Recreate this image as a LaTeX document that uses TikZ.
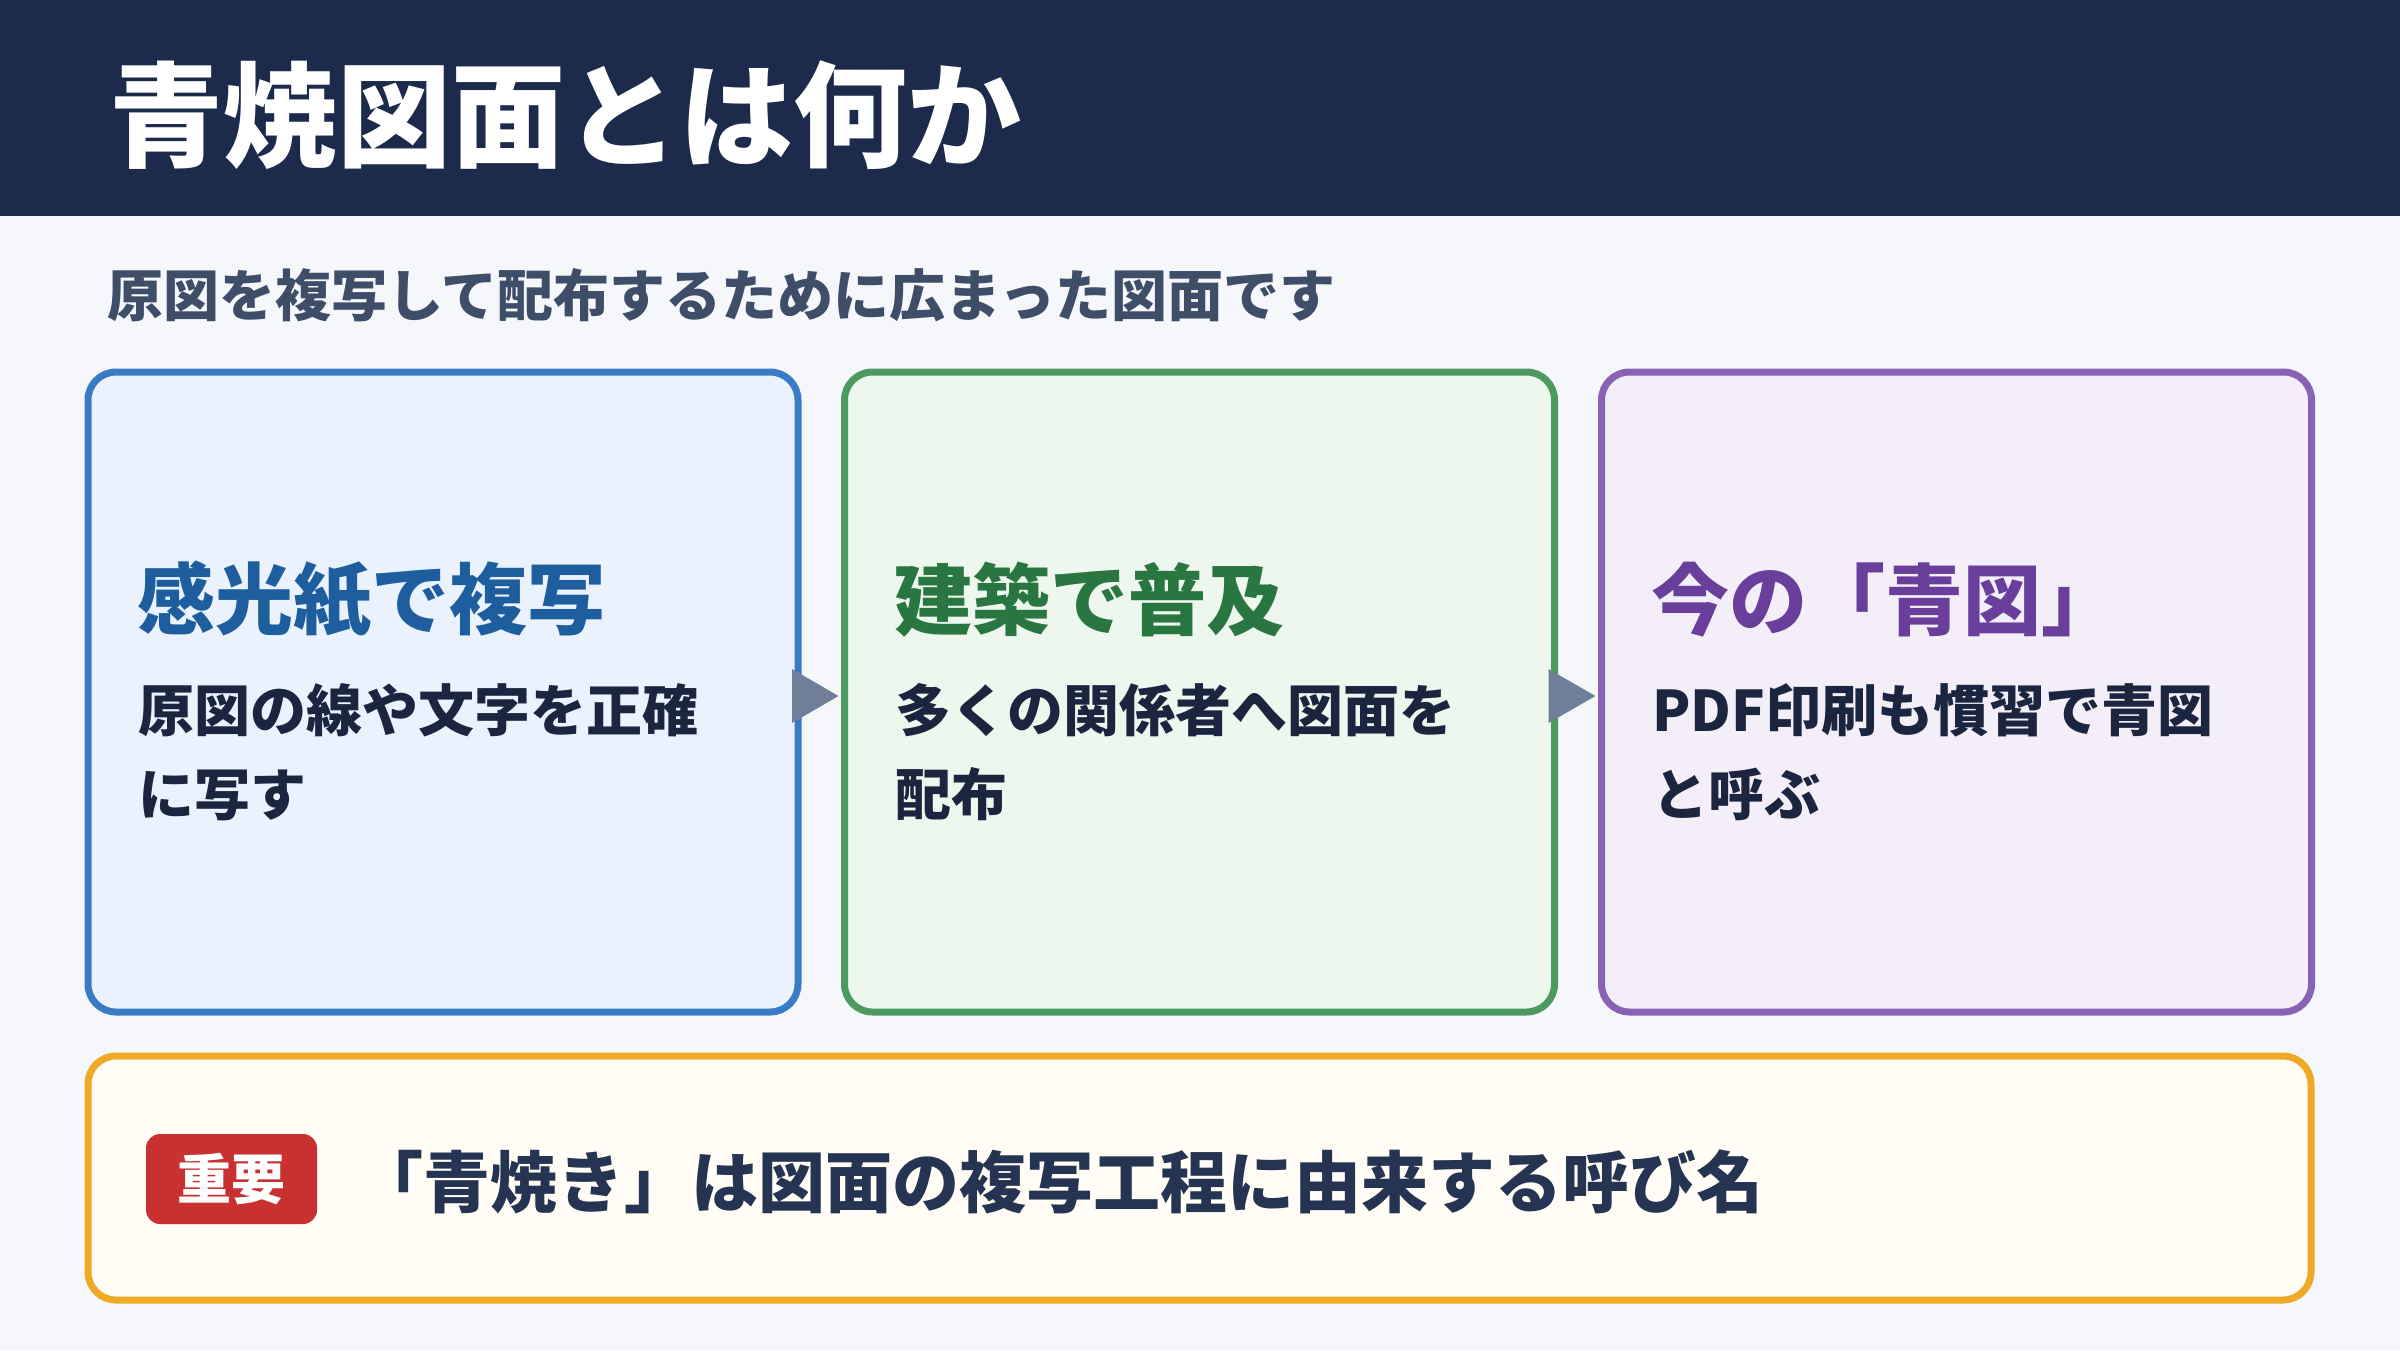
\documentclass[tikz,border=0pt]{standalone}
\usepackage{fontspec}
\setmainfont{Noto Sans CJK JP}
\usetikzlibrary{calc}
\definecolor{bgc}{HTML}{F5F7FB}
\definecolor{headc}{HTML}{1C2A4B}
\definecolor{subc}{HTML}{3E4E69}
\definecolor{bodyc}{HTML}{1B2540}
\definecolor{arrc}{HTML}{6F7F99}
\definecolor{bluefill}{HTML}{EAF3FD}
\definecolor{blueline}{HTML}{3A7CC4}
\definecolor{bluetext}{HTML}{1F5E9E}
\definecolor{greenfill}{HTML}{EDF7EE}
\definecolor{greenline}{HTML}{4C9A60}
\definecolor{greentext}{HTML}{2A7640}
\definecolor{purplefill}{HTML}{F4EEF9}
\definecolor{purpleline}{HTML}{8A62B5}
\definecolor{purpletext}{HTML}{6A3F9B}
\definecolor{notefill}{HTML}{FFFDF5}
\definecolor{noteline}{HTML}{EFA925}
\definecolor{badgec}{HTML}{C93030}
\definecolor{notetext}{HTML}{243452}
\tikzset{
  card/.style={draw, line width=7pt, rounded corners=28pt, minimum width=710pt, minimum height=640pt, inner sep=0pt, outer sep=0pt},
  cardtitle/.style={anchor=west, inner sep=0pt, font=\fontsize{78}{90}\selectfont\bfseries},
  cardbody/.style={anchor=north west, inner sep=0pt, align=left, text=bodyc, font=\fontsize{56}{84}\selectfont\bfseries},
  flowarrow/.style={fill=arrc, draw=none}
}
\begin{document}
\begin{tikzpicture}[x=1pt,y=-1pt]
\useasboundingbox (0,0) rectangle (2400,1350);
\fill[bgc] (0,0) rectangle (2400,1350);
\fill[headc] (0,0) rectangle (2400,216);
\node[anchor=west, inner sep=0pt, text=white, font=\fontsize{114}{130}\selectfont\bfseries] (title) at (109,115) {青焼図面とは何か};
\node[anchor=west, inner sep=0pt, text=subc, font=\fontsize{56}{66}\selectfont\bfseries] (sub) at (107,295) {原図を複写して配布するために広まった図面です};

\node[card, draw=blueline, fill=bluefill] (c1) at (443,692) {};
\node[card, draw=greenline, fill=greenfill] (c2) at (1199.5,692) {};
\node[card, draw=purpleline, fill=purplefill] (c3) at (1956.5,692) {};

\node[cardtitle, text=bluetext] (t1) at (137,600) {感光紙で複写};
\node[cardbody] (b1) at (138,683) {原図の線や文字を正確\\に写す};
\node[cardtitle, text=greentext] (t2) at (894,600) {建築で普及};
\node[cardbody] (b2) at (895,683) {多くの関係者へ図面を\\配布};
\node[cardtitle, text=purpletext] (t3) at (1651,600) {今の「青図」};
\node[cardbody] (b3) at (1652,683) {PDF印刷も慣習で青図\\と呼ぶ};

\path (c1.east) ++(-6,-23) coordinate (a1s) (c1.east) ++(-6,31) coordinate (a1e) (c2.west) ++(-6,4) coordinate (a1t);
\path (c2.east) ++(-6,-23) coordinate (a2s) (c2.east) ++(-6,31) coordinate (a2e) (c3.west) ++(-6,4) coordinate (a2t);
\fill[flowarrow] (a1s) -- (a1t) -- (a1e) -- cycle;
\fill[flowarrow] (a2s) -- (a2t) -- (a2e) -- cycle;

\node[draw=noteline, fill=notefill, line width=7pt, rounded corners=28pt, minimum width=2223pt, minimum height=244pt, inner sep=0pt] (note) at (1199.5,1178) {};
\node[fill=badgec, rounded corners=14pt, minimum width=171pt, minimum height=90pt, inner sep=0pt, text=white, font=\fontsize{54}{64}\selectfont\bfseries] (badge) at (231.5,1179) {重要};
\node[anchor=west, inner sep=0pt, text=notetext, font=\fontsize{67}{78}\selectfont\bfseries] (notet) at (356,1182) {「青焼き」は図面の複写工程に由来する呼び名};
\end{tikzpicture}
\end{document}
